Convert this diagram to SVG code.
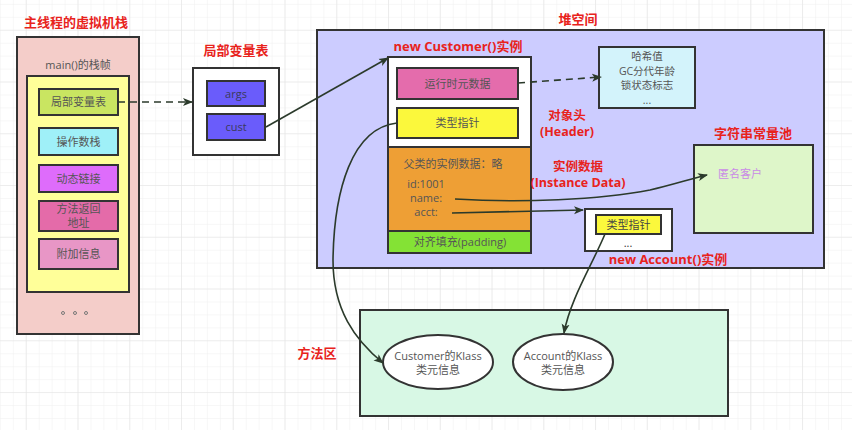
<svg xmlns="http://www.w3.org/2000/svg" width="852" height="430" viewBox="0 0 852 430">
<defs>
<pattern id="minor" width="12.94" height="12.94" patternUnits="userSpaceOnUse" x="26.75" y="30.75">
<path d="M12.94 0V12.94H0" fill="none" stroke="#f0f0f0" stroke-width="1"/>
</pattern>
<pattern id="major" width="51.75" height="51.75" patternUnits="userSpaceOnUse" x="-25" y="-21">
<path d="M51.75 0V51.75H0" fill="none" stroke="#e4e4e4" stroke-width="1.2"/>
</pattern>
<marker id="ah" viewBox="0 0 10 10" refX="9" refY="5" markerWidth="10" markerHeight="10" markerUnits="userSpaceOnUse" orient="auto">
<path d="M0,1 L10,5 L0,9 L2.5,5 Z" fill="#2b3a2b"/>
</marker>
</defs>
<style>
.title{font-family:"Open Sans","Noto Sans CJK SC",sans-serif;font-weight:bold;font-size:13px;fill:#e8231c;text-anchor:middle;}
.sub{font-size:12.5px;}
.lbl{font-family:"Open Sans","Noto Sans CJK SC",sans-serif;font-size:11px;fill:#555;text-anchor:middle;}
.small{font-size:10.5px;}
.box{stroke:#333;stroke-width:2;}
.edge{fill:none;stroke:#2b3a2b;stroke-width:1.6;}
</style>
<rect width="852" height="430" fill="#fff"/>
<rect width="852" height="430" fill="url(#minor)"/>
<rect width="852" height="430" fill="url(#major)"/>

<g id="stack">
<text class="title" x="76" y="27">主线程的虚拟机栈</text>
<rect class="box" x="17" y="37" width="122" height="297" fill="#f4cdc9"/>
<text class="lbl" x="78" y="69">main()的栈帧</text>
<rect class="box" x="27" y="76" width="102" height="216" fill="#ffff99"/>
<g id="locals-slot"><rect class="box" x="39" y="89" width="79" height="26" fill="#c9e561"/><text class="lbl" x="78.5" y="106">局部变量表</text></g>
<g id="operand"><rect class="box" x="39" y="128" width="79" height="27" fill="#9ff0f8"/><text class="lbl" x="78.5" y="146">操作数栈</text></g>
<g id="dynlink"><rect class="box" x="39" y="165" width="79" height="27" fill="#de6cfb"/><text class="lbl" x="78.5" y="183">动态链接</text></g>
<g id="retaddr"><rect class="box" x="39" y="201" width="79" height="30" fill="#e46ba9"/><text class="lbl" x="78.5" y="213">方法返回</text><text class="lbl" x="78.5" y="227">地址</text></g>
<g id="extra"><rect class="box" x="39" y="239" width="79" height="30" fill="#e896c6"/><text class="lbl" x="78.5" y="258">附加信息</text></g>
<circle cx="63" cy="313" r="1.5" fill="none" stroke="#777"/>
<circle cx="75" cy="313" r="1.5" fill="none" stroke="#777"/>
<circle cx="86" cy="313" r="1.5" fill="none" stroke="#777"/>
</g>

<g id="localvars">
<text class="title" x="236" y="55">局部变量表</text>
<rect class="box" x="193" y="68" width="86" height="87" fill="#fff"/>
<g id="args"><rect class="box" x="207" y="81" width="58" height="25" fill="#6a5cfb"/><text class="lbl" x="236" y="98" style="fill:#3a3a5a">args</text></g>
<g id="cust"><rect class="box" x="207" y="114" width="58" height="26" fill="#6a5cfb"/><text class="lbl" x="236" y="131" style="fill:#3a3a5a">cust</text></g>
</g>

<g id="heap">
<rect class="box" x="317" y="30" width="507" height="238" fill="#ccccff"/>
<text class="title" x="578" y="24">堆空间</text>
</g>

<g id="customer">
<text class="title" x="458" y="51">new Customer()实例</text>
<rect x="388" y="57" width="143" height="90" fill="#fff"/>
<rect x="388" y="147" width="143" height="84" fill="#ee9f35"/>
<rect x="388" y="231" width="143" height="22" fill="#84e235"/>
<path d="M388 147H531M388 231H531" stroke="#333" stroke-width="2"/>
<rect class="box" x="388" y="57" width="143" height="196" fill="none"/>
<g id="runtime-meta"><rect class="box" x="397" y="68" width="121" height="31" fill="#e46cac"/><text class="lbl" x="457.5" y="88">运行时元数据</text></g>
<g id="klass-ptr"><rect class="box" x="397" y="108" width="121" height="30" fill="#fbf83c"/><text class="lbl" x="457.5" y="127">类型指针</text></g>
<text class="lbl" x="453" y="168">父类的实例数据：略</text>
<text class="lbl" x="426" y="188">id:1001</text>
<text class="lbl" x="426" y="202">name:</text>
<text class="lbl" x="426" y="216">acct:</text>
<text class="lbl" x="460" y="246">对齐填充(padding)</text>
</g>

<g id="markword">
<rect class="box" x="599" y="47" width="96" height="61" fill="#d3f3fb"/>
<text class="lbl small" x="647" y="60">哈希值</text>
<text class="lbl small" x="647" y="74.5">GC分代年龄</text>
<text class="lbl small" x="647" y="89">锁状态标志</text>
<text class="lbl small" x="647" y="103.5">...</text>
</g>

<g id="header-label">
<text class="title sub" x="567" y="120">对象头</text>
<text class="title sub" x="567" y="135.5">(Header)</text>
</g>
<g id="instdata-label">
<text class="title sub" x="578" y="171">实例数据</text>
<text class="title sub" x="578" y="186.5">(Instance Data)</text>
</g>

<g id="strpool">
<text class="title" x="753" y="138">字符串常量池</text>
<rect class="box" x="694" y="145" width="119" height="88" fill="#def6c9"/>
<text class="lbl" x="740" y="178" style="fill:#c98be6">匿名客户</text>
</g>

<g id="account">
<rect class="box" x="585" y="209" width="87" height="42" fill="#fff"/>
<rect class="box" x="596" y="215" width="65" height="19" fill="#fbf83c"/>
<text class="lbl" x="628.5" y="229" style="fill:#444">类型指针</text>
<text class="lbl" x="628" y="247" style="fill:#333">...</text>
<text class="title" x="668" y="264">new Account()实例</text>
</g>

<g id="methodarea">
<text class="title" x="317" y="358">方法区</text>
<rect class="box" x="360" y="310" width="368" height="106" fill="#d8f8e5"/>
<g id="cust-klass"><ellipse cx="438" cy="362" rx="55" ry="27" fill="#fff" stroke="#333" stroke-width="2"/><text class="lbl" x="438" y="360">Customer的Klass</text><text class="lbl" x="438" y="374">类元信息</text></g>
<g id="acct-klass"><ellipse cx="563" cy="362" rx="50" ry="28" fill="#fff" stroke="#333" stroke-width="2"/><text class="lbl" x="563" y="360">Account的Klass</text><text class="lbl" x="563" y="374">类元信息</text></g>
</g>

<g id="connectors">
<path class="edge" d="M118 102H192" stroke-dasharray="7,5" marker-end="url(#ah)"/>
<path class="edge" d="M266 127L388 58" marker-end="url(#ah)"/>
<path class="edge" d="M518 83L601 77" stroke-dasharray="7,5" marker-end="url(#ah)"/>
<path class="edge" d="M397 123C352 128 334 190 333 260C333 310 355 340 383 363" marker-end="url(#ah)"/>
<path class="edge" d="M455 199C520 203 600 200 650 190C672 185 690 179 707 175" marker-end="url(#ah)"/>
<path class="edge" d="M452 213L583 210" marker-end="url(#ah)"/>
<path class="edge" d="M605 234C592 265 570 300 564 333" marker-end="url(#ah)"/>
</g>
</svg>
